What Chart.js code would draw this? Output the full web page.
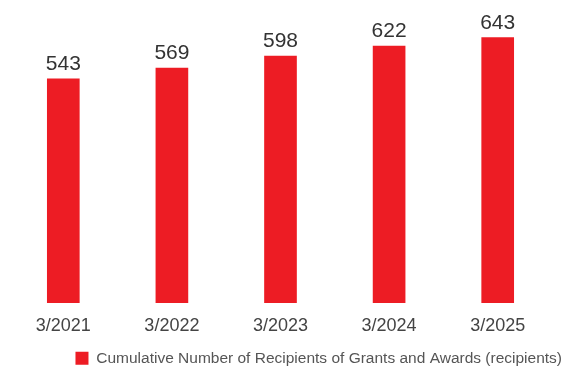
<!DOCTYPE html>
<html>
<head>
<meta charset="utf-8">
<script src="https://cdn.jsdelivr.net/npm/chart.js@4/dist/chart.umd.min.js"></script>
<style>
  html, body { margin: 0; padding: 0; background: #fff; }
  #wrap { width: 585px; height: 369px; position: relative; }
</style>
</head>
<body>
<div id="wrap"><canvas id="grantsChart"></canvas></div>
<script>
const fiscalYears = ['3/2021', '3/2022', '3/2023', '3/2024', '3/2025'];
const recipients = [543, 569, 598, 622, 643];
const seriesLabel = 'Cumulative Number of Recipients of Grants and Awards (recipients)';

const RED = '#ED1C24';
const FONT = '"Liberation Sans", Arial, Helvetica, sans-serif';

// numbers above each bar
const valueLabels = {
    id: 'valueLabels',
    afterDatasetsDraw(chart) {
        const { ctx } = chart;
        const meta = chart.getDatasetMeta(0);
        ctx.save();
        ctx.font = '21px ' + FONT;
        ctx.fillStyle = '#333';
        ctx.textAlign = 'center';
        ctx.textBaseline = 'bottom';
        meta.data.forEach((bar, i) => {
            ctx.fillText(recipients[i], bar.x, bar.y - 4);
        });
        ctx.restore();
    }
};

new Chart(document.getElementById('grantsChart'), {
    type: 'bar',
    data: {
        labels: fiscalYears,
        datasets: [{
            label: seriesLabel,
            data: recipients,
            backgroundColor: RED,
            borderWidth: 0,
            barThickness: 32
        }]
    },
    options: {
        responsive: true,
        maintainAspectRatio: false,
        animation: false,
        layout: {
            padding: { top: 14, left: 9, right: 21, bottom: -7 }
        },
        plugins: {
            legend: {
                position: 'bottom',
                align: 'end',
                labels: {
                    boxWidth: 13,
                    boxHeight: 13,
                    padding: 2,
                    color: '#555',
                    font: { family: FONT, size: 15.5 }
                }
            },
            tooltip: { enabled: false }
        },
        scales: {
            x: {
                grid: { display: false, drawTicks: false },
                border: { display: false },
                ticks: {
                    color: '#444',
                    padding: 12,
                    font: { family: FONT, size: 18 }
                }
            },
            y: {
                display: false,
                min: 0,
                max: 700
            },
            // empty axis that keeps a little space on the right of the bars
            spacer: {
                type: 'linear',
                position: 'right',
                grid: { display: false },
                border: { display: false },
                ticks: { display: false },
                afterFit(axis) { axis.width = 12; }
            }
        }
    },
    plugins: [valueLabels]
});
</script>
</body>
</html>
